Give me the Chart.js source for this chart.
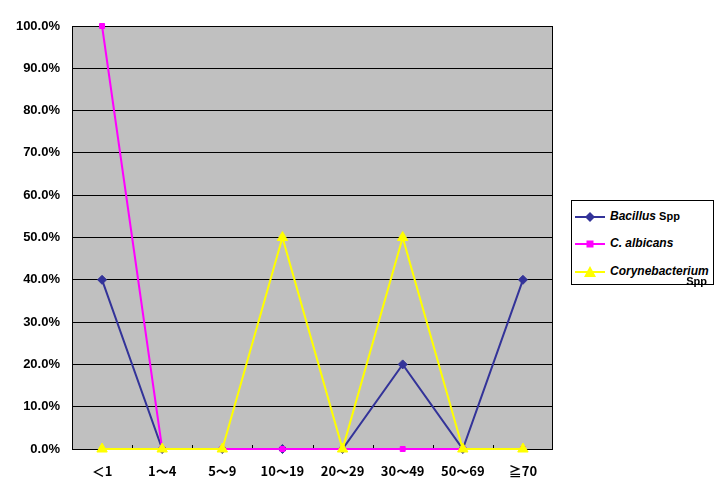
<!DOCTYPE html>
<html>
<head>
<meta charset="utf-8">
<script src="https://cdn.jsdelivr.net/npm/chart.js@4/dist/chart.umd.min.js"></script>
<style>
  body { margin: 0; background: #fff; }
  #wrap { position: relative; width: 728px; height: 493px; }
  #legend {
    position: absolute; left: 571px; top: 200px; width: 143px; height: 85px;
    border: 1px solid #000; background: #fff; box-sizing: border-box;
    font-family: "Liberation Sans", Arial, sans-serif; font-weight: bold; font-style: italic; font-size: 12px;
  }
  .row { position: absolute; left: 3px; height: 14px; line-height: 14px; }
  .row canvas { vertical-align: middle; }
  .row span { position: absolute; left: 35px; top: 0; white-space: nowrap; }
  .spp { font-style: normal; font-size: 11px; }
</style>
</head>
<body>
<div id="wrap">
  <canvas id="chart" width="728" height="493"></canvas>
  <div id="legend"></div>
</div>
<script>
const categories = ['＜1', '1～4', '5～9', '10～19', '20～29', '30～49', '50～69', '≧70'];
const bacillus = [40, 0, 0, 0, 0, 20, 0, 40];
const albicans = [100, 0, 0, 0, 0, 0, 0, 0];
const coryne = [0, 0, 0, 50, 0, 50, 0, 0];
const yTicks = [0, 10, 20, 30, 40, 50, 60, 70, 80, 90, 100];

const yFont = { family: '"Liberation Sans", Arial, sans-serif', size: 13, weight: 'bold' };
const xFont = { family: '"Noto Sans CJK JP", "Liberation Sans", sans-serif', size: 13, weight: 'bold' };

const series = [
  { label: 'Bacillus', suffix: ' Spp', data: bacillus, color: '#333399', style: 'rectRot', radius: 4.5, order: 3 },
  { label: 'C. albicans', suffix: '', data: albicans, color: '#FF00FF', style: 'rect', radius: 3.5, order: 2 },
  { label: 'Corynebacterium', suffix: 'Spp', data: coryne, color: '#FFFF00', style: 'triangle', radius: 6, order: 1 }
];

// gray plot area with black frame
const plotBg = {
  id: 'plotBg',
  beforeDraw(chart) {
    const { ctx, chartArea: a } = chart;
    ctx.save();
    ctx.fillStyle = '#C0C0C0';
    ctx.fillRect(a.left, a.top, a.right - a.left, a.bottom - a.top);
    ctx.restore();
  },
  beforeDatasetsDraw(chart) {
    const { ctx, chartArea: a } = chart;
    ctx.save();
    ctx.strokeStyle = '#000';
    ctx.lineWidth = 1;
    ctx.strokeRect(a.left + 0.5, a.top + 0.5, a.right - a.left - 1, a.bottom - a.top);
    // small category tick marks pointing up from the axis
    const step = (a.right - a.left) / categories.length;
    ctx.beginPath();
    for (let i = 1; i < categories.length; i++) {
      const px = Math.round(a.left + step * i) + 0.5;
      ctx.moveTo(px, a.bottom);
      ctx.lineTo(px, a.bottom - 4);
    }
    ctx.stroke();
    ctx.restore();
  }
};

new Chart(document.getElementById('chart'), {
  type: 'line',
  data: {
    labels: categories,
    datasets: series.map(s => ({
      label: s.label,
      data: s.data,
      borderColor: s.color,
      backgroundColor: s.color,
      borderWidth: 2,
      pointStyle: s.style,
      pointRadius: s.radius,
      pointBorderWidth: 1,
      order: s.order,
      clip: false,
      tension: 0
    }))
  },
  options: {
    responsive: false,
    animation: false,
    layout: { padding: { top: 26, right: 175, left: 0, bottom: 0 } },
    plugins: { legend: { display: false }, tooltip: { enabled: false } },
    scales: {
      x: {
        offset: true,
        grid: { display: false },
        border: { display: false },
        ticks: { color: '#000', font: xFont, padding: 6, maxRotation: 0 },
        afterFit: s => { s.height = 44; }
      },
      y: {
        min: 0, max: 100,
        afterBuildTicks: s => { s.ticks = yTicks.map(v => ({ value: v })); },
        grid: { color: '#000', lineWidth: 1, drawTicks: false },
        border: { display: false },
        ticks: { color: '#000', font: yFont, padding: 12, callback: v => v.toFixed(1) + '%' },
        afterFit: s => { s.width = 72; }
      }
    }
  },
  plugins: [plotBg]
});

// legend
const legend = document.getElementById('legend');
const rowTops = [8, 35, 63];
series.forEach((s, i) => {
  const row = document.createElement('div');
  row.className = 'row';
  row.style.top = rowTops[i] + 'px';
  const c = document.createElement('canvas');
  c.width = 30; c.height = 14;
  const g = c.getContext('2d');
  g.strokeStyle = s.color; g.lineWidth = 2;
  g.beginPath(); g.moveTo(0, 7); g.lineTo(30, 7); g.stroke();
  g.fillStyle = s.color;
  g.beginPath();
  if (s.style === 'rectRot') { g.moveTo(15, 2); g.lineTo(20, 7); g.lineTo(15, 12); g.lineTo(10, 7); }
  else if (s.style === 'rect') { g.rect(11.5, 3.5, 7, 7); }
  else { g.moveTo(15, 1); g.lineTo(21, 12); g.lineTo(9, 12); }
  g.closePath(); g.fill();
  row.appendChild(c);
  const t = document.createElement('span');
  t.textContent = s.label;
  if (s.suffix === ' Spp') {
    const sp = document.createElement('span');
    sp.className = 'spp';
    sp.style.position = 'static';
    sp.textContent = ' Spp';
    t.appendChild(sp);
  }
  row.appendChild(t);
  legend.appendChild(row);
  if (s.suffix === 'Spp') {
    const sp = document.createElement('div');
    sp.className = 'spp';
    sp.style.cssText = 'position:absolute;right:6px;top:' + (rowTops[i] + 11) + 'px;font-weight:bold;';
    sp.textContent = 'Spp';
    legend.appendChild(sp);
  }
});
</script>
</body>
</html>
